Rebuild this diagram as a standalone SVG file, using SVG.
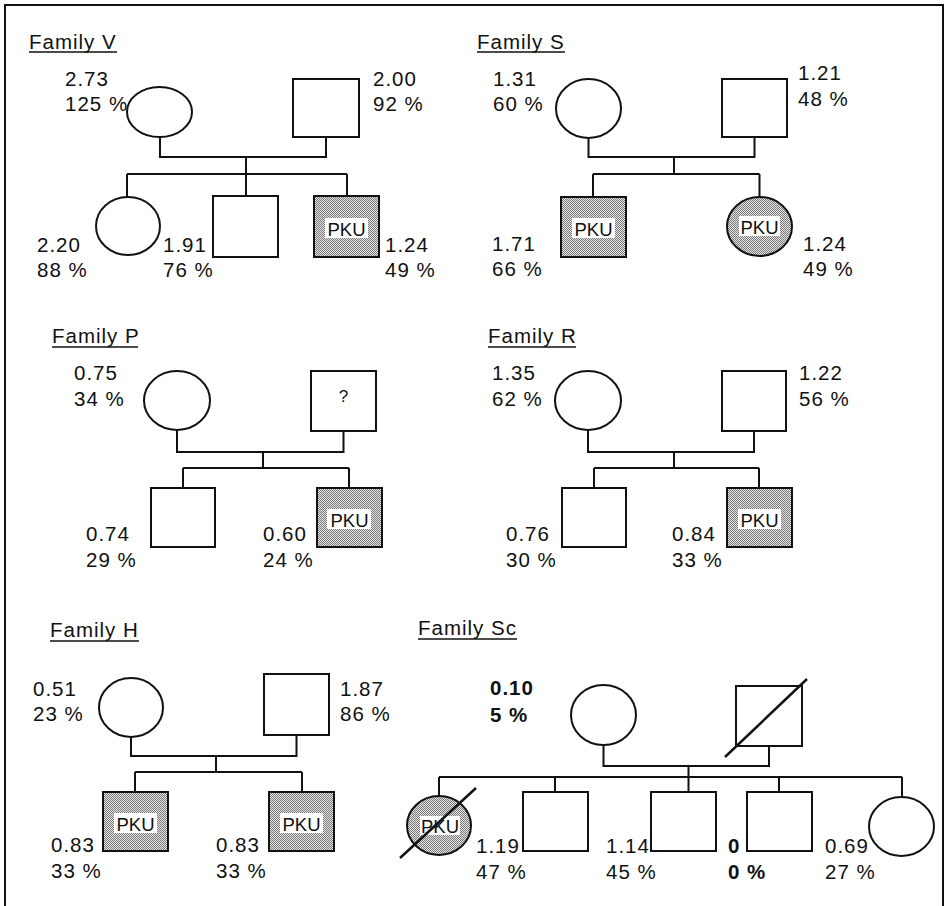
<svg xmlns="http://www.w3.org/2000/svg" width="945" height="906" viewBox="0 0 945 906">
<defs>
<pattern id="stip" width="2" height="2" patternUnits="userSpaceOnUse">
<rect width="2" height="2" fill="#e4e4e4"/>
<rect width="1" height="1" fill="#7a7a7a"/>
<rect x="1" y="1" width="1" height="1" fill="#7a7a7a"/>
</pattern>
</defs>
<style>
text{font-family:"Liberation Sans",Arial,Helvetica,sans-serif;font-size:20.5px;letter-spacing:1px;fill:#111}
.b{font-weight:bold}
.pk{font-size:18.5px;letter-spacing:0;text-anchor:middle}
.q{font-size:17px;letter-spacing:0;text-anchor:middle}
.s{fill:#fff;stroke:#111;stroke-width:2}
.a{fill:url(#stip);stroke:#111;stroke-width:2}
.w{fill:#fff;stroke:none}
.c{fill:none;stroke:#111;stroke-width:2}
.u{stroke:#111;stroke-width:1.5}
.x{stroke:#111;stroke-width:2.5}
</style>
<rect width="945" height="906" fill="#fff"/>
<path class="c" d="M5 906 V5 H943 V906"/>

<g id="titles">
<text x="29" y="49">Family V</text><line class="u" x1="29" y1="52" x2="117" y2="52"/>
<text x="477" y="49">Family S</text><line class="u" x1="477" y1="52" x2="565" y2="52"/>
<text x="52" y="343">Family P</text><line class="u" x1="52" y1="347" x2="138" y2="347"/>
<text x="488" y="343">Family R</text><line class="u" x1="488" y1="347" x2="576" y2="347"/>
<text x="50" y="637">Family H</text><line class="u" x1="50" y1="641" x2="139" y2="641"/>
<text x="418" y="635">Family Sc</text><line class="u" x1="418" y1="639" x2="517" y2="639"/>
</g>

<g id="connectors">
<path class="c" d="M160 137 V157 H326 V137 M246 157 V174 M127 174 H347 M127 174 V197 M246 174 V196 M347 174 V196"/>
<path class="c" d="M588.5 138 V157 H754.5 V137 M674 157 V174 M593 174 H759.5 M593 174 V197 M759.5 174 V197"/>
<path class="c" d="M177 430 V452 H343.5 V431 M263 452 V468 M183 468 H349 M183 468 V488 M349 468 V488"/>
<path class="c" d="M588 430 V452 H754 V431 M674 452 V468 M594 468 H759 M594 468 V488 M759 468 V488"/>
<path class="c" d="M131 737 V756 H296.5 V735 M216 756 V772 M135 772 H302 M135 772 V792 M302 772 V792"/>
<path class="c" d="M603.5 745 V766 H769 V746 M688.5 766 V777 M439 777 H902 M439 777 V796 M555 777 V792 M688.5 777 V792 M779 777 V792 M902 777 V797"/>
</g>

<g id="v-mother"><ellipse class="s" cx="159.5" cy="112" rx="32.5" ry="25"/><text x="65" y="86">2.73</text><text x="65" y="111">125 %</text></g>
<g id="v-father"><rect class="s" x="293" y="79" width="66" height="58"/><text x="373" y="86">2.00</text><text x="373" y="111">92 %</text></g>
<g id="v-daughter"><ellipse class="s" cx="128" cy="226" rx="32" ry="29"/><text x="37" y="252">2.20</text><text x="37" y="277">88 %</text></g>
<g id="v-son"><rect class="s" x="213" y="196" width="65" height="61"/><text x="163" y="252">1.91</text><text x="163" y="277">76 %</text></g>
<g id="v-pku"><rect class="a" x="314" y="196" width="65" height="61"/><rect class="w" x="325" y="218" width="43" height="20"/><text class="pk" x="346.5" y="236">PKU</text><text x="385" y="252">1.24</text><text x="385" y="277">49 %</text></g>

<g id="s-mother"><ellipse class="s" cx="588.5" cy="108.5" rx="32.5" ry="29.5"/><text x="493" y="86">1.31</text><text x="493" y="111">60 %</text></g>
<g id="s-father"><rect class="s" x="722" y="79" width="65" height="58"/><text x="798" y="80">1.21</text><text x="798" y="106">48 %</text></g>
<g id="s-pku-son"><rect class="a" x="561" y="197" width="65" height="60"/><rect class="w" x="572" y="218" width="43" height="20"/><text class="pk" x="593.5" y="236">PKU</text><text x="492" y="251">1.71</text><text x="492" y="276">66 %</text></g>
<g id="s-pku-daughter"><ellipse class="a" cx="759.5" cy="226.5" rx="32.5" ry="29.5"/><rect class="w" x="739" y="216" width="41" height="20"/><text class="pk" x="759.5" y="234">PKU</text><text x="803" y="251">1.24</text><text x="803" y="276">49 %</text></g>

<g id="p-mother"><ellipse class="s" cx="177" cy="400.5" rx="33" ry="29.5"/><text x="74" y="380">0.75</text><text x="74" y="406">34 %</text></g>
<g id="p-father"><rect class="s" x="311" y="371" width="65" height="60"/><text class="q" x="343.5" y="402">?</text></g>
<g id="p-son"><rect class="s" x="151" y="488" width="64" height="59"/><text x="86" y="541">0.74</text><text x="86" y="567">29 %</text></g>
<g id="p-pku"><rect class="a" x="317" y="488" width="65" height="59"/><rect class="w" x="327" y="509" width="44" height="20"/><text class="pk" x="349.5" y="527">PKU</text><text x="263" y="541">0.60</text><text x="263" y="567">24 %</text></g>

<g id="r-mother"><ellipse class="s" cx="588" cy="400.5" rx="33" ry="29.5"/><text x="492" y="380">1.35</text><text x="492" y="406">62 %</text></g>
<g id="r-father"><rect class="s" x="722" y="371" width="64" height="60"/><text x="799" y="380">1.22</text><text x="799" y="406">56 %</text></g>
<g id="r-son"><rect class="s" x="562" y="488" width="64" height="59"/><text x="506" y="541">0.76</text><text x="506" y="567">30 %</text></g>
<g id="r-pku"><rect class="a" x="727" y="488" width="65" height="59"/><rect class="w" x="738" y="509" width="43" height="20"/><text class="pk" x="759.5" y="527">PKU</text><text x="672" y="541">0.84</text><text x="672" y="567">33 %</text></g>

<g id="h-mother"><ellipse class="s" cx="131" cy="707.5" rx="32" ry="29.5"/><text x="33" y="696">0.51</text><text x="33" y="721">23 %</text></g>
<g id="h-father"><rect class="s" x="264" y="674" width="65" height="61"/><text x="340" y="696">1.87</text><text x="340" y="721">86 %</text></g>
<g id="h-pku1"><rect class="a" x="103" y="792" width="65" height="59"/><rect class="w" x="114" y="813" width="43" height="20"/><text class="pk" x="135.5" y="831">PKU</text><text x="51" y="852">0.83</text><text x="51" y="878">33 %</text></g>
<g id="h-pku2"><rect class="a" x="269" y="792" width="65" height="59"/><rect class="w" x="280" y="813" width="43" height="20"/><text class="pk" x="301.5" y="831">PKU</text><text x="216" y="852">0.83</text><text x="216" y="878">33 %</text></g>

<g id="sc-mother"><ellipse class="s" cx="603.5" cy="715" rx="32.5" ry="30"/><text class="b" x="490" y="695">0.10</text><text class="b" x="490" y="722">5 %</text></g>
<g id="sc-father"><rect class="s" x="736" y="686" width="66" height="60"/><line class="x" x1="725" y1="757" x2="807" y2="679"/></g>
<g id="sc-pku-daughter"><ellipse class="a" cx="439" cy="825.5" rx="32" ry="29.5"/><rect class="w" x="420" y="816" width="40" height="19"/><text class="pk" x="440" y="833">PKU</text><line class="x" x1="400" y1="858" x2="476" y2="788"/></g>
<g id="sc-son1"><rect class="s" x="523" y="792" width="65" height="59"/><text x="476" y="853">1.19</text><text x="476" y="879">47 %</text></g>
<g id="sc-son2"><rect class="s" x="651" y="792" width="65" height="59"/><text x="606" y="853">1.14</text><text x="606" y="879">45 %</text></g>
<g id="sc-son3"><rect class="s" x="747" y="792" width="65" height="59"/><text class="b" x="728" y="853">0</text><text class="b" x="728" y="879">0 %</text></g>
<g id="sc-daughter"><ellipse class="s" cx="901.5" cy="826.5" rx="32.5" ry="29.5"/><text x="825" y="853">0.69</text><text x="825" y="879">27 %</text></g>
</svg>
